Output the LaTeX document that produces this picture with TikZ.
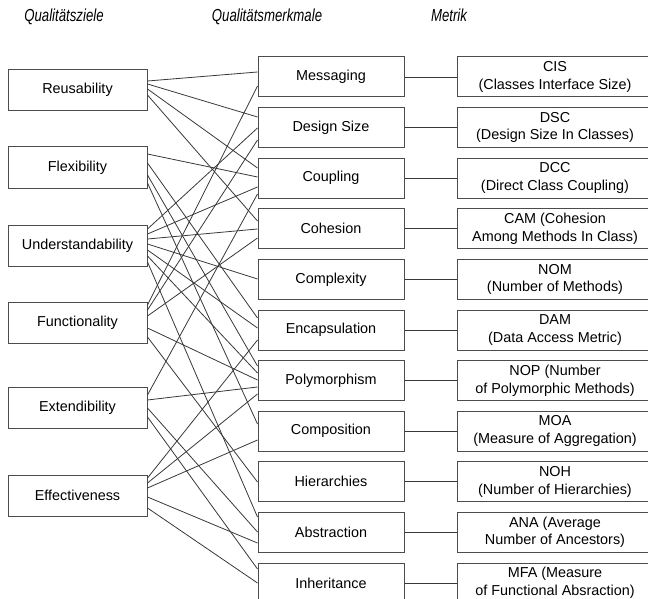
\documentclass[tikz,border=0pt]{standalone}
\usepackage{fontspec}
\setmainfont{Liberation Sans}
\newfontfamily\headfont[FakeStretch=0.76]{Liberation Sans}
\begin{document}
\begin{tikzpicture}[x=1pt,y=-1pt,
  box/.style={draw=black!70, line width=1pt, fill=white, inner sep=0pt,
    align=center, font=\fontsize{14.4}{17.5}\selectfont},
  goal/.style={box, minimum width=139pt, minimum height=41pt},
  prop/.style={box, minimum width=146pt, minimum height=40pt},
  metric/.style={box, minimum width=196pt, minimum height=40pt},
  head/.style={font=\headfont\fontsize{17.4}{20}\selectfont\itshape, anchor=base},
  link/.style={draw=black!78, line width=0.8pt}]
\useasboundingbox (0,0) rectangle (648,599);
\clip (0,0) rectangle (648,599);

% column headings
\node[head] (h1) at (64,22) {Qualitätsziele};
\node[head] (h2) at (267,22) {Qualitätsmerkmale};
\node[head] (h3) at (449,22) {Metrik};

% quality goals
\node[goal] (reus) at (77.5,90)    {Reusability};
\node[goal] (flex) at (77.5,167.5) {Flexibility};
\node[goal] (und)  at (77.5,245.5) {Understandability};
\node[goal] (func) at (77.5,322.5) {Functionality};
\node[goal] (ext)  at (77.5,407.5) {Extendibility};
\node[goal] (eff)  at (77.5,495.5) {Effectiveness};

% design properties
\node[prop] (msg)  at (331,77)    {Messaging};
\node[prop] (ds)   at (331,127.6) {Design Size};
\node[prop] (coup) at (331,178.2) {Coupling};
\node[prop] (coh)  at (331,228.8) {Cohesion};
\node[prop] (cplx) at (331,279.4) {Complexity};
\node[prop] (enc)  at (331,330)   {Encapsulation};
\node[prop] (poly) at (331,380.6) {Polymorphism};
\node[prop] (comp) at (331,431.2) {Composition};
\node[prop] (hier) at (331,481.8) {Hierarchies};
\node[prop] (abs)  at (331,532.4) {Abstraction};
\node[prop] (inh)  at (331,583)   {Inheritance};

% metrics
\node[metric] (cis) at (555,77)    {CIS\\(Classes Interface Size)};
\node[metric] (dsc) at (555,127.6) {DSC\\(Design Size In Classes)};
\node[metric] (dcc) at (555,178.2) {DCC\\(Direct Class Coupling)};
\node[metric] (cam) at (555,228.8) {CAM (Cohesion\\Among Methods In Class)};
\node[metric] (nom) at (555,279.4) {NOM\\(Number of Methods)};
\node[metric] (dam) at (555,330)   {DAM\\(Data Access Metric)};
\node[metric] (nop) at (555,380.6) {NOP (Number\\of Polymorphic Methods)};
\node[metric] (moa) at (555,431.2) {MOA\\(Measure of Aggregation)};
\node[metric] (noh) at (555,481.8) {NOH\\(Number of Hierarchies)};
\node[metric] (ana) at (555,532.4) {ANA (Average\\Number of Ancestors)};
\node[metric] (mfa) at (555,583)   {MFA (Measure\\of Functional Absraction)};

% property -> metric
\foreach \p/\m in {msg/cis,ds/dsc,coup/dcc,coh/cam,cplx/nom,enc/dam,
                   poly/nop,comp/moa,hier/noh,abs/ana,inh/mfa}
  \draw[link] (\p) -- (\m);

% goal -> property, each line leaving and entering at its own height
\newcommand\qlink[4]{\draw[link] (#1.east |- 0,#2) -- (#3.west |- 0,#4);}
\qlink{reus}{81}{msg}{72}
\qlink{reus}{84}{ds}{117}
\qlink{reus}{89}{coup}{168}
\qlink{reus}{95}{coh}{221}
\qlink{flex}{154}{coup}{177}
\qlink{flex}{163}{enc}{318}
\qlink{flex}{175}{poly}{366}
\qlink{flex}{183}{comp}{424}
\qlink{und}{229}{ds}{128}
\qlink{und}{234}{coup}{187}
\qlink{und}{239}{coh}{229}
\qlink{und}{244}{cplx}{279}
\qlink{und}{250}{enc}{328}
\qlink{und}{256}{poly}{373}
\qlink{und}{262}{abs}{517}
\qlink{func}{305}{msg}{86}
\qlink{func}{310}{ds}{140}
\qlink{func}{316}{coh}{238}
\qlink{func}{328}{poly}{380}
\qlink{func}{337}{hier}{482}
\qlink{ext}{395}{coup}{194}
\qlink{ext}{400}{poly}{387}
\qlink{ext}{408}{abs}{532}
\qlink{ext}{417}{inh}{569}
\qlink{eff}{478}{enc}{340}
\qlink{eff}{483}{poly}{394}
\qlink{eff}{488}{comp}{440}
\qlink{eff}{497}{abs}{543}
\qlink{eff}{508}{inh}{583}
\end{tikzpicture}
\end{document}
